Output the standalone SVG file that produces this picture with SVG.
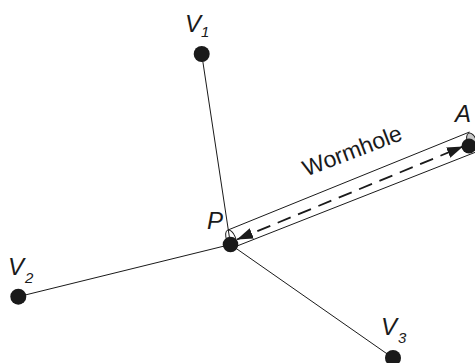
<svg xmlns="http://www.w3.org/2000/svg" width="475" height="363" viewBox="0 0 475 363">
  <style>
    .edge { stroke: #1a1a1a; stroke-width: 1; fill: none; }
    .tube { stroke: #1a1a1a; stroke-width: 1; fill: none; }
    .dash { stroke: #1a1a1a; stroke-width: 1.8; fill: none; stroke-dasharray: 14 8; }
    .node { fill: #1a1a1a; }
    .lbl { font-family: "Liberation Sans", Arial, sans-serif; font-style: italic; font-size: 24px; fill: #1a1a1a; }
    .sub { font-family: "Liberation Sans", Arial, sans-serif; font-style: italic; font-size: 15px; fill: #1a1a1a; }
    .wh { font-family: "Liberation Sans", Arial, sans-serif; font-size: 23px; fill: #1a1a1a; }
  </style>
  <defs>
    <marker id="arrow" markerUnits="userSpaceOnUse" markerWidth="18" markerHeight="12" refX="16" refY="5.5" orient="auto-start-reverse">
      <path d="M0,0 L16,5.5 L0,11 Z" fill="#1a1a1a" stroke="none"/>
    </marker>
  </defs>
  <rect width="475" height="363" fill="#ffffff"/>

  <g id="connectors">
    <line class="edge" x1="201.7" y1="54" x2="230.5" y2="244.5"/>
    <line class="edge" x1="18.3" y1="296.7" x2="230.5" y2="244.5"/>
    <line class="edge" x1="230.5" y1="244.5" x2="393" y2="358"/>
    <g id="wormhole">
      <line class="tube" x1="228" y1="230" x2="469.5" y2="132"/>
      <line class="tube" x1="234.5" y1="247" x2="476" y2="152"/>
      <ellipse cx="231" cy="238.5" rx="4.5" ry="9" fill="none" stroke="#1a1a1a" stroke-width="1" transform="rotate(-22 231 238.5)"/>
      <ellipse cx="472" cy="141.5" rx="4.5" ry="9" fill="#c8c8c8" stroke="#1a1a1a" stroke-width="1" transform="rotate(-22 472 141.5)"/>
      <line class="dash" x1="237" y1="239.5" x2="463" y2="146.5" marker-start="url(#arrow)" marker-end="url(#arrow)"/>
      <text class="wh" x="355" y="158" text-anchor="middle" transform="rotate(-21 355 158)">Wormhole</text>
    </g>
  </g>

  <g id="V1">
    <circle class="node" cx="201.7" cy="54" r="8"/>
    <text class="lbl" x="185" y="32">V</text>
    <text class="sub" x="201" y="37">1</text>
  </g>
  <g id="V2">
    <circle class="node" cx="18.3" cy="296.7" r="8"/>
    <text class="lbl" x="8" y="275">V</text>
    <text class="sub" x="25" y="283">2</text>
  </g>
  <g id="V3">
    <circle class="node" cx="393" cy="358" r="8"/>
    <text class="lbl" x="381" y="335">V</text>
    <text class="sub" x="398" y="343">3</text>
  </g>
  <g id="P">
    <circle class="node" cx="230.5" cy="244.5" r="7.8"/>
    <text class="lbl" x="207" y="229">P</text>
  </g>
  <g id="A">
    <circle class="node" cx="469" cy="146" r="7.5"/>
    <text class="lbl" x="455" y="122">A</text>
  </g>
</svg>
